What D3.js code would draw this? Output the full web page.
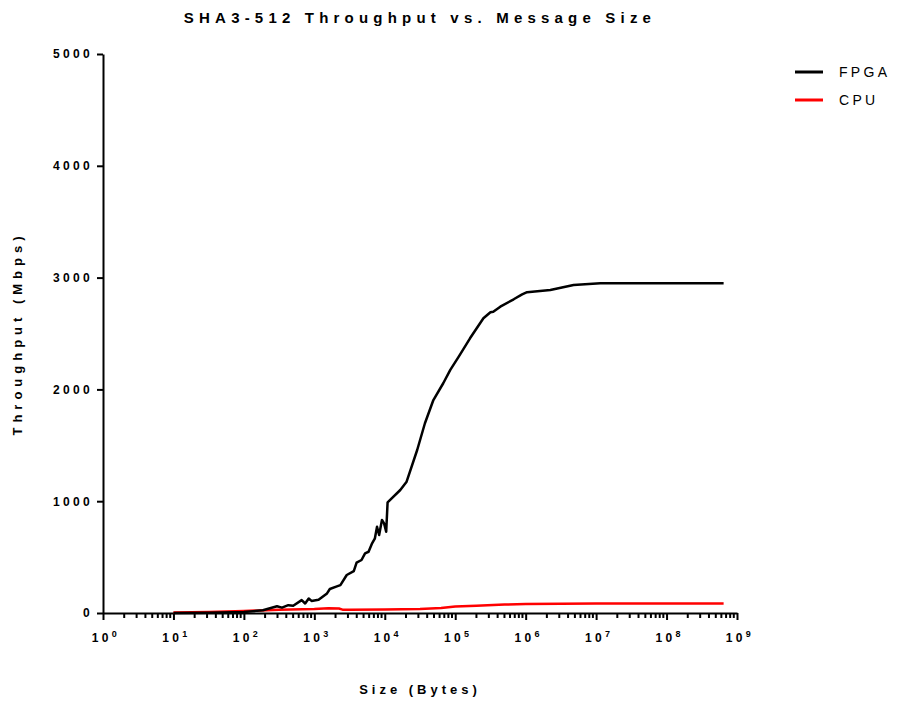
<!DOCTYPE html>
<html>
<head>
<meta charset="utf-8">
<script src="https://cdn.jsdelivr.net/npm/d3@7"></script>
<style>
  html, body { margin: 0; padding: 0; background: #fff; }
  svg { display: block; font-family: "Liberation Sans", Arial, sans-serif; }
</style>
</head>
<body>
<svg id="chart" width="897" height="704"></svg>
<script>
// Message sizes in bytes and measured throughput in Mbps
const fpgaSizes = [10, 32, 100, 186, 295, 347, 427, 501, 661, 741, 832, 912, 1148, 1514,
  1660, 2089, 2344, 2884, 3631, 3981, 4677, 5248, 5888, 6607, 7244, 7762, 8318, 9120,
  9772, 10471, 10965, 16596, 20417, 28840, 37154, 48978, 67608, 85114, 112202, 162181,
  251189, 316228, 346737, 436516, 676083, 891251, 1047129, 2238721, 4786301, 11481536,
  645654229];
const fpgaMbps = [0, 3, 8, 25, 60, 48, 70, 65, 115, 85, 130, 108, 118, 175,
  215, 238, 250, 340, 375, 450, 474, 534, 548, 623, 668, 772, 698, 832,
  802, 727, 990, 1100, 1175, 1458, 1697, 1905, 2055, 2174, 2293, 2457,
  2636, 2690, 2695, 2740, 2806, 2850, 2870, 2889, 2934, 2949,
  2950];

const cpuSizes = [10, 32, 100, 316, 1000, 1585, 2239, 2512, 3162, 10000, 31623, 63096,
  100000, 199526, 501187, 1000000, 3162278, 10000000, 645654229];
const cpuMbps = [5, 10, 18, 28, 35, 42, 40, 30, 30, 32, 35, 45,
  58, 65, 75, 80, 82, 84, 85];

const yTicks = [0, 1000, 2000, 3000, 4000, 5000];
const xDecades = [0, 1, 2, 3, 4, 5, 6, 7, 8, 9];

const seriesNames = ["FPGA", "CPU"];
const seriesColors = ["#000000", "#ff0000"];

const svg = d3.select("#chart");

const x = d3.scaleLog().domain([1, 1e9]).range([103, 737]);
const y = d3.scaleLinear().domain([0, 5000]).range([613, 54]);

// Title
svg.append("text")
  .attr("x", 420).attr("y", 23)
  .attr("text-anchor", "middle")
  .attr("font-size", 15).attr("font-weight", "bold")
  .attr("letter-spacing", 5.2)
  .text("SHA3-512 Throughput vs. Message Size");

// Y axis
const yAxis = svg.append("g")
  .attr("transform", "translate(103,0)")
  .call(d3.axisLeft(y).tickValues(yTicks).tickSize(6).tickSizeOuter(0).tickPadding(4)
    .tickFormat(d3.format("d")));
yAxis.select(".domain").attr("stroke-width", 2).attr("stroke", "#000");
yAxis.selectAll(".tick line").attr("stroke-width", 2).attr("stroke", "#000");
yAxis.selectAll(".tick text")
  .attr("font-size", 12).attr("font-weight", "bold").attr("fill", "#000")
  .attr("letter-spacing", 3.3)
  .attr("font-family", "Liberation Sans, Arial, sans-serif");

// X axis: major ticks at decades, minor ticks at 2..9 within each decade
const majors = xDecades.map(k => Math.pow(10, k));
const minors = [];
xDecades.slice(0, -1).forEach(k => {
  for (let m = 2; m <= 9; m++) minors.push(m * Math.pow(10, k));
});

const xAxis = svg.append("g")
  .attr("transform", "translate(0,613)")
  .call(d3.axisBottom(x).tickValues(majors).tickSize(7).tickSizeOuter(0).tickFormat(""));
xAxis.select(".domain").attr("stroke-width", 2).attr("stroke", "#000");
xAxis.selectAll(".tick line").attr("stroke-width", 2).attr("stroke", "#000");

svg.append("g")
  .attr("transform", "translate(0,613)")
  .selectAll("line")
  .data(minors)
  .join("line")
  .attr("x1", d => x(d)).attr("x2", d => x(d))
  .attr("y1", 0).attr("y2", 5)
  .attr("stroke", "#000").attr("stroke-width", 2);

// Decade labels: 10 with superscript exponent
const xLabels = svg.append("g");
xDecades.forEach(k => {
  const t = xLabels.append("text")
    .attr("x", x(Math.pow(10, k)) + 3).attr("y", 642)
    .attr("text-anchor", "middle")
    .attr("font-size", 12).attr("font-weight", "bold")
    .attr("letter-spacing", 3.3);
  t.append("tspan").text("10");
  t.append("tspan").attr("dy", -5).attr("font-size", 9).text(String(k));
});

// Axis titles
svg.append("text")
  .attr("transform", "translate(22,333.5) rotate(-90)")
  .attr("text-anchor", "middle")
  .attr("font-size", 13).attr("font-weight", "bold")
  .attr("letter-spacing", 5)
  .text("Throughput (Mbps)");

svg.append("text")
  .attr("x", 420).attr("y", 694)
  .attr("text-anchor", "middle")
  .attr("font-size", 13).attr("font-weight", "bold")
  .attr("letter-spacing", 4)
  .text("Size (Bytes)");

// Data lines
const line = d3.line()
  .x(d => x(d[0]))
  .y(d => y(d[1]));

const cpuData = cpuSizes.map((s, i) => [s, cpuMbps[i]]);
const fpgaData = fpgaSizes.map((s, i) => [s, fpgaMbps[i]]);

svg.append("path")
  .datum(cpuData)
  .attr("fill", "none")
  .attr("stroke", seriesColors[1])
  .attr("stroke-width", 2.5)
  .attr("stroke-linejoin", "round")
  .attr("d", line);

svg.append("path")
  .datum(fpgaData)
  .attr("fill", "none")
  .attr("stroke", seriesColors[0])
  .attr("stroke-width", 2.5)
  .attr("stroke-linejoin", "round")
  .attr("d", line);

// Legend
const legend = svg.append("g");
seriesNames.forEach((name, i) => {
  const ly = 72 + i * 28;
  legend.append("line")
    .attr("x1", 795).attr("x2", 823)
    .attr("y1", ly).attr("y2", ly)
    .attr("stroke", seriesColors[i]).attr("stroke-width", 3);
  legend.append("text")
    .attr("x", 839).attr("y", ly + 5)
    .attr("font-size", 14)
    .attr("letter-spacing", 3.3)
    .attr("fill", "#000")
    .text(name);
});
</script>
</body>
</html>
